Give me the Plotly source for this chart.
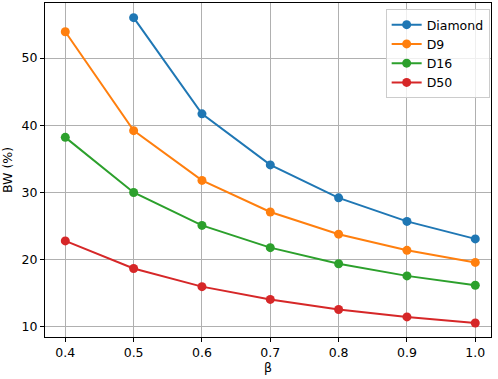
import plotly.graph_objects as go

beta = [0.4, 0.5, 0.6, 0.7, 0.8, 0.9, 1.0]
series_names = ["Diamond", "D9", "D16", "D50"]
diamond = [None, 56.0, 41.7, 34.1, 29.2, 25.7, 23.1]
d9 = [53.9, 39.2, 31.8, 27.1, 23.8, 21.4, 19.6]
d16 = [38.2, 30.0, 25.1, 21.8, 19.4, 17.6, 16.2]
d50 = [22.8, 18.7, 16.0, 14.1, 12.6, 11.5, 10.6]
colors = ["#1f77b4", "#ff7f0e", "#2ca02c", "#d62728"]
x_ticks = [0.4, 0.5, 0.6, 0.7, 0.8, 0.9, 1.0]
y_ticks = [10, 20, 30, 40, 50]

fig = go.Figure()
for name, vals, c in zip(series_names, [diamond, d9, d16, d50], colors):
    fig.add_trace(go.Scatter(
        x=beta, y=vals, name=name, mode="lines+markers",
        line=dict(color=c, width=2),
        marker=dict(color=c, size=9),
    ))

font = dict(family="DejaVu Sans", size=12.5, color="#000000")
fig.update_layout(
    width=498, height=379,
    margin=dict(l=45, r=7, t=3, b=42),
    paper_bgcolor="white", plot_bgcolor="white",
    font=font,
    showlegend=True,
    legend=dict(
        x=0.997, y=0.982, xanchor="right", yanchor="top",
        bgcolor="rgba(255,255,255,0.8)", bordercolor="#cccccc", borderwidth=1,
        font=dict(family="DejaVu Sans", size=12.5, color="#000000"),
        itemwidth=30, tracegroupgap=0,
    ),
)
fig.update_xaxes(
    range=[0.3703, 1.023],
    tickvals=x_ticks, ticktext=[f"{v:.1f}" for v in x_ticks],
    showgrid=True, gridcolor="#b0b0b0", gridwidth=1,
    showline=True, linecolor="#000000", linewidth=1, mirror=True,
    ticks="outside", ticklen=4, tickcolor="#000000",
    zeroline=False, automargin=False,
    title=dict(text="β", font=dict(family="DejaVu Sans", size=12.5), standoff=4),
)
fig.update_yaxes(
    range=[8.51, 58.18],
    tickvals=y_ticks,
    showgrid=True, gridcolor="#b0b0b0", gridwidth=1,
    showline=True, linecolor="#000000", linewidth=1, mirror=True,
    ticks="outside", ticklen=4, tickcolor="#000000",
    zeroline=False, automargin=False,
    title=dict(text="BW (%)", font=dict(family="DejaVu Sans", size=12.5), standoff=6),
)
fig.write_html(
    "out.html",
    config={"displayModeBar": False},
    post_script="document.body.style.margin='0';document.body.style.padding='0';",
)
